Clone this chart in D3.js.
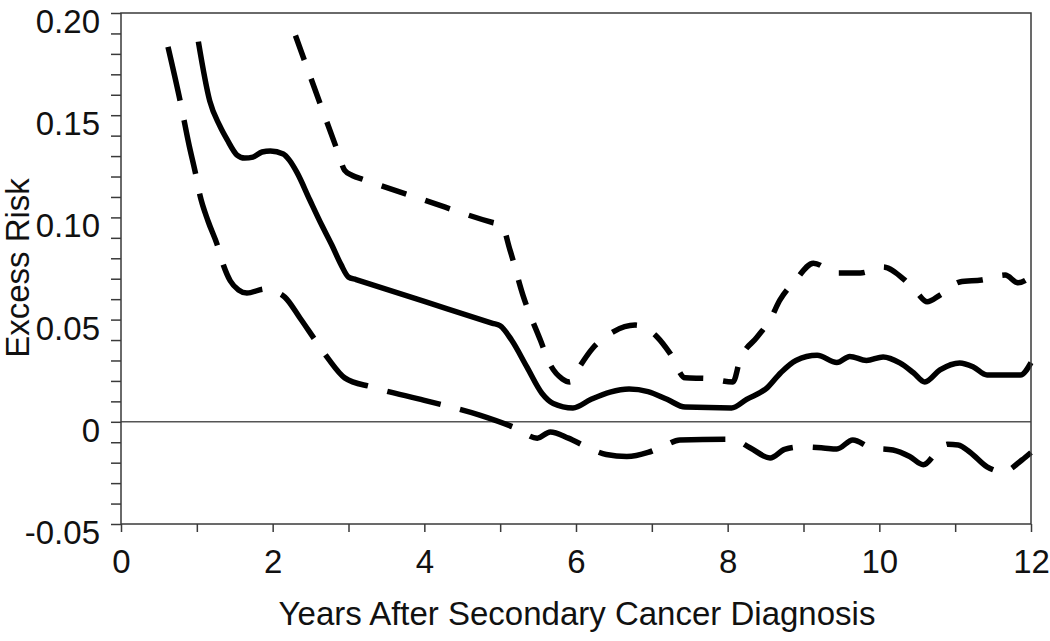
<!DOCTYPE html>
<html>
<head>
<meta charset="utf-8">
<script src="https://cdn.jsdelivr.net/npm/d3@7"></script>
<style>
  html, body { margin: 0; padding: 0; background: #fff; }
  svg { display: block; }
  text { font-family: "Liberation Sans", Arial, sans-serif; fill: #111; }
</style>
</head>
<body>
<svg id="chart" width="1050" height="641"></svg>
<script>
// ---- Data ----
const xTicks = [0,1,2,3,4,5,6,7,8,9,10,11,12];
const yTicks = [-0.05,-0.04,-0.03,-0.02,-0.01,0,0.01,0.02,0.03,0.04,0.05,0.06,0.07,0.08,0.09,0.10,0.11,0.12,0.13,0.14,0.15,0.16,0.17,0.18,0.19,0.20];
const yLabels = {"-0.05":"-0.05","0":"0","0.05":"0.05","0.1":"0.10","0.15":"0.15","0.2":"0.20"};
const xLabel = "Years After Secondary Cancer Diagnosis";
const yLabel = "Excess Risk";

// Estimate (solid)
const estimate = [[1.02,0.186],[1.17,0.157],[1.30,0.145],[1.40,0.138],[1.53,0.1305],[1.63,0.129],[1.74,0.1295],[1.86,0.132],[1.97,0.1325],[2.14,0.131],[2.22,0.128],[2.32,0.122],[2.49,0.1085],[2.65,0.096],[2.78,0.0865],[2.9,0.077],[3.0,0.0708],[3.1,0.0696],[4.0,0.0589],[4.9,0.0482],[5.0,0.047],[5.15,0.040],[5.35,0.027],[5.55,0.014],[5.7,0.009],[5.96,0.0068],[6.2,0.011],[6.45,0.0145],[6.7,0.016],[6.95,0.0148],[7.2,0.011],[7.44,0.0072],[8.05,0.0068],[8.25,0.011],[8.52,0.0166],[8.7,0.024],[8.9,0.030],[9.18,0.0325],[9.44,0.029],[9.61,0.032],[9.83,0.030],[10.05,0.0317],[10.27,0.0288],[10.45,0.024],[10.6,0.0195],[10.8,0.0254],[11.06,0.0288],[11.24,0.0268],[11.42,0.0229],[11.86,0.0229],[12.0,0.029]];

// Upper bound (short dashes)
const upper = [[2.3,0.189],[2.85,0.133],[2.95,0.123],[3.05,0.1205],[3.2,0.1185],[4.0,0.1085],[4.9,0.0975],[5.02,0.0963],[5.13,0.084],[5.3,0.062],[5.53,0.040],[5.66,0.028],[5.82,0.021],[5.92,0.0195],[6.03,0.026],[6.22,0.036],[6.49,0.044],[6.78,0.0473],[7.07,0.0415],[7.24,0.0335],[7.44,0.0215],[7.73,0.0212],[8.07,0.0195],[8.16,0.030],[8.39,0.0415],[8.56,0.050],[8.69,0.0596],[8.89,0.069],[9.13,0.0776],[9.44,0.0728],[9.75,0.0728],[10.05,0.0757],[10.32,0.0698],[10.5,0.063],[10.63,0.0587],[10.8,0.062],[11.06,0.0684],[11.35,0.0694],[11.66,0.0718],[11.83,0.068],[12.0,0.071]];

// Lower bound (long dashes)
const lower = [[0.62,0.1834],[0.78,0.157],[0.9,0.135],[0.98,0.122],[1.04,0.111],[1.15,0.098],[1.27,0.0865],[1.35,0.0767],[1.44,0.069],[1.55,0.0645],[1.66,0.063],[1.9,0.065],[2.05,0.0635],[2.16,0.061],[2.36,0.0508],[2.56,0.040],[2.73,0.031],[2.95,0.0215],[3.31,0.017],[4.0,0.0105],[4.73,0.0033],[5.2,-0.003],[5.49,-0.008],[5.66,-0.005],[5.9,-0.008],[6.14,-0.0123],[6.4,-0.016],[6.67,-0.017],[6.95,-0.015],[7.15,-0.012],[7.37,-0.0089],[8.06,-0.0085],[8.3,-0.0128],[8.56,-0.0177],[8.75,-0.0135],[8.95,-0.0123],[9.26,-0.0128],[9.44,-0.0133],[9.65,-0.0089],[9.9,-0.0128],[10.18,-0.0138],[10.4,-0.017],[10.58,-0.021],[10.78,-0.0138],[10.9,-0.011],[11.04,-0.0113],[11.2,-0.015],[11.42,-0.022],[11.63,-0.0245],[11.88,-0.0187],[12.0,-0.015]];

// ---- Layout ----
const svg = d3.select("#chart");
const L = 121, R = 1031, T = 13, B = 524;
const FS = 33;
const x = d3.scaleLinear().domain([0, 12]).range([L, R]);
const y = d3.scaleLinear().domain([-0.05, 0.20]).range([B, T]);
const axisColor = "#3a3a3a";

// zero line
svg.append("line")
  .attr("x1", x(0)).attr("x2", x(12))
  .attr("y1", y(0)).attr("y2", y(0))
  .attr("stroke", "#555").attr("stroke-width", 1.5);

// lines
const line = d3.line().x(d => x(d[0])).y(d => y(d[1])).curve(d3.curveMonotoneX);
const series = [
  {data: lower, dash: "55,20"},
  {data: upper, dash: "26,20"},
  {data: estimate, dash: null}
];
svg.selectAll("path.series").data(series).join("path")
  .attr("class", "series")
  .attr("d", d => line(d.data))
  .attr("fill", "none")
  .attr("stroke", "#000")
  .attr("stroke-width", 5.5)
  .attr("stroke-linejoin", "round")
  .attr("stroke-dasharray", d => d.dash);

// axes
const fmtY = v => { const k = String(Math.round(v * 100) / 100); return yLabels[k] !== undefined ? yLabels[k] : ""; };
const yAxis = d3.axisLeft(y).tickValues(yTicks).tickFormat(fmtY).tickSize(10).tickPadding(11).tickSizeOuter(0);
const gy = svg.append("g").attr("transform", `translate(${L},0)`).call(yAxis);
gy.select(".domain").remove();
gy.selectAll(".tick line").attr("stroke", axisColor).attr("stroke-width", 1.5);
gy.selectAll(".tick text").attr("font-size", FS).attr("dy", "0.59em")
  .style("font-family", '"Liberation Sans", Arial, sans-serif').attr("fill", "#111");

const xAxis = d3.axisBottom(x).tickValues(xTicks).tickFormat(v => v % 2 === 0 ? String(v) : "").tickSize(8).tickPadding(18).tickSizeOuter(0);
const gx = svg.append("g").attr("transform", `translate(0,${B})`).call(xAxis);
gx.select(".domain").remove();
gx.selectAll(".tick line").attr("stroke", axisColor).attr("stroke-width", 1.5);
gx.selectAll(".tick text").attr("font-size", FS)
  .style("font-family", '"Liberation Sans", Arial, sans-serif').attr("fill", "#111");

// frame
svg.append("rect")
  .attr("x", L).attr("y", T).attr("width", R - L).attr("height", B - T)
  .attr("fill", "none").attr("stroke", axisColor).attr("stroke-width", 1.5);

// titles
svg.append("text").attr("x", (L + R) / 2 + 1).attr("y", 625)
  .attr("text-anchor", "middle").attr("font-size", FS).text(xLabel);
svg.append("text").attr("transform", "translate(29,268) rotate(-90)")
  .attr("text-anchor", "middle").attr("font-size", FS).text(yLabel);
</script>
</body>
</html>
